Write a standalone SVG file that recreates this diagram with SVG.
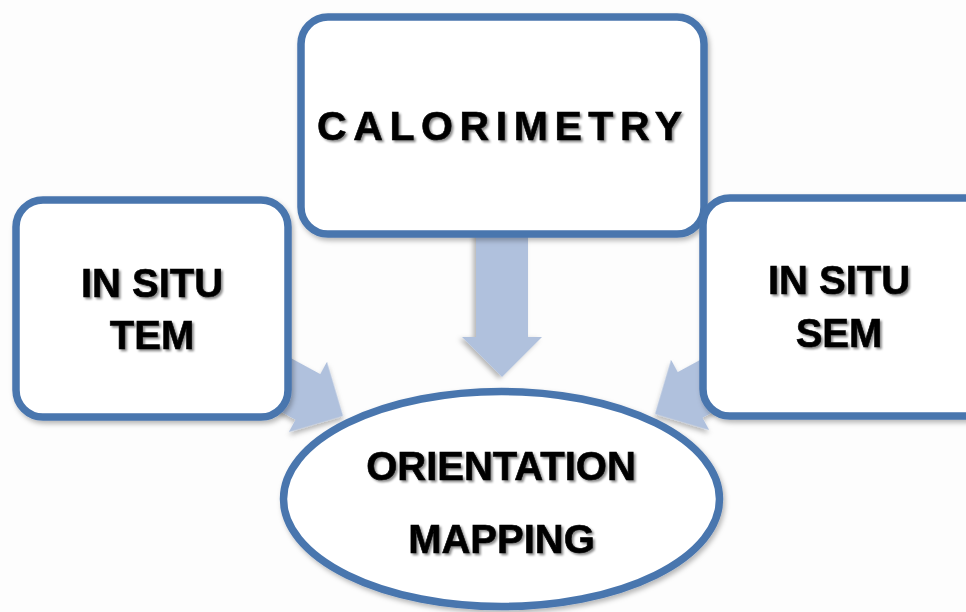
<svg xmlns="http://www.w3.org/2000/svg" width="966" height="612" viewBox="0 0 966 612">
  <defs>
    <filter id="boxShadow" x="-10%" y="-10%" width="125%" height="125%">
      <feDropShadow dx="2" dy="3" stdDeviation="2.5" flood-color="#000" flood-opacity="0.28"/>
    </filter>
    <filter id="textShadow" x="-10%" y="-20%" width="125%" height="150%">
      <feDropShadow dx="2" dy="2" stdDeviation="1.2" flood-color="#000" flood-opacity="0.45"/>
    </filter>
    <polygon id="arrowShape" points="-150,-26 -40,-26 -40,-40 0,0 -40,40 -40,26 -150,26"/>
  </defs>
  <style>
    .box { fill: #ffffff; stroke: #4A76AE; stroke-width: 7.5; filter: url(#boxShadow); }
    .arrow { fill: #B0C1DD; filter: url(#boxShadow); }
    .label { font-family: "Liberation Sans", Arial, sans-serif; font-weight: bold; font-size: 40px; fill: #000; text-anchor: middle; filter: url(#textShadow); stroke: #000; stroke-width: 0.6; }
    .spaced { font-family: "Liberation Sans", Arial, sans-serif; font-weight: bold; font-size: 41px; fill: #000; filter: url(#textShadow); stroke: #000; stroke-width: 0.6; }
  </style>
  <rect x="0" y="0" width="966" height="612" fill="#FDFDFD"/>

  <g id="connectors">
    <use href="#arrowShape" class="arrow" transform="translate(502,377) rotate(90)"/>
    <use href="#arrowShape" class="arrow" transform="translate(343,416) rotate(28.5)"/>
    <use href="#arrowShape" class="arrow" transform="translate(655,414) scale(-1,1) rotate(28.5)"/>
  </g>

  <g id="calorimetry">
    <rect class="box" x="301" y="17" width="403" height="217" rx="27"/>
    <text class="spaced" x="317" y="140" textLength="365" lengthAdjust="spacing">CALORIMETRY</text>
  </g>

  <g id="in-situ-tem">
    <rect class="box" x="16" y="200" width="272" height="217" rx="27"/>
    <text class="label" x="152" y="297">IN SITU</text>
    <text class="label" x="152" y="349">TEM</text>
  </g>

  <g id="in-situ-sem">
    <rect class="box" x="703" y="198" width="290" height="218" rx="27"/>
    <text class="label" x="839" y="294">IN SITU</text>
    <text class="label" x="839" y="347">SEM</text>
  </g>

  <g id="orientation-mapping">
    <ellipse class="box" cx="501.5" cy="499" rx="218" ry="107.5"/>
    <text class="label" x="501" y="480">ORIENTATION</text>
    <text class="label" x="501.5" y="553">MAPPING</text>
  </g>
</svg>
